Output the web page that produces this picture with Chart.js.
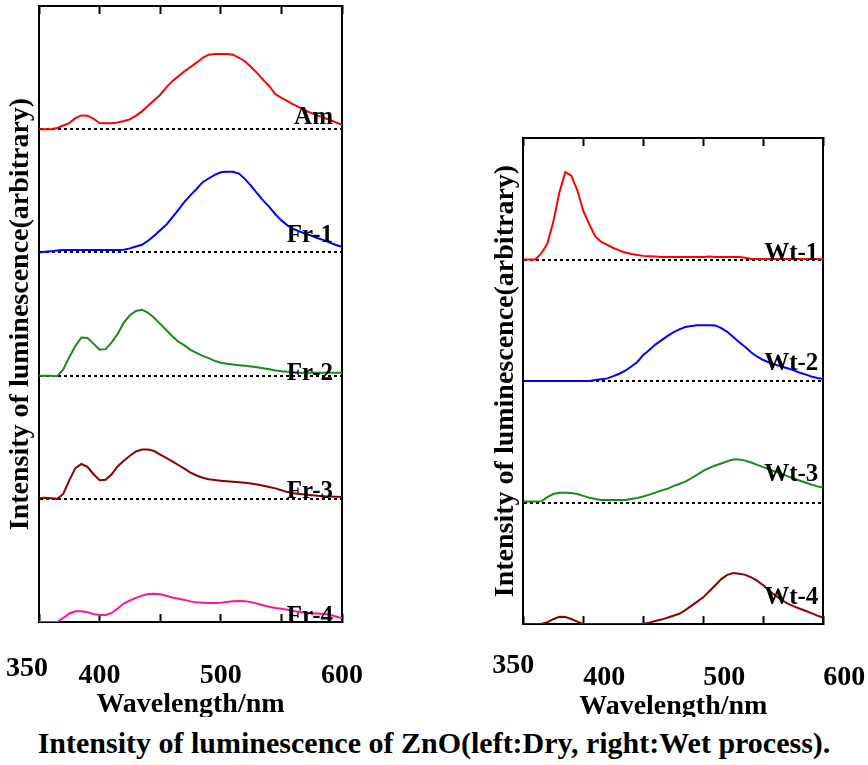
<!DOCTYPE html>
<html>
<head>
<meta charset="utf-8">
<title>ZnO luminescence</title>
<script src="https://cdn.jsdelivr.net/npm/chart.js@4/dist/chart.umd.min.js"></script>
<style>
  body { margin: 0; width: 868px; height: 765px; background: #fff; position: relative; overflow: hidden; }
  #dry { position: absolute; left: 0; top: 0; }
  #wet { position: absolute; left: 480px; top: 132px; }
  #caption {
    position: absolute; left: 0; top: 717px; width: 868px; height: 48px;
    background: #fff; text-align: center; padding-top: 11px; box-sizing: border-box;
    font: bold 30px/30px "Liberation Serif", "Times New Roman", serif; color: #000;
  }
</style>
</head>
<body>
<canvas id="dry" width="366" height="722"></canvas>
<canvas id="wet" width="388" height="592"></canvas>
<div id="caption">Intensity of luminescence of ZnO(left:Dry, right:Wet process).</div>

<script>
// wavelength grid (nm)
const wavelengths = [350,355,360,365,370,375,380,385,390,395,400,405,410,415,420,425,430,435,440,445,
  450,455,460,465,470,475,480,485,490,495,500,505,510,515,520,525,530,535,540,545,
  550,555,560,565,570,575,580,585,590,595,600];

// x tick labels
const xTickLabels = [350, 400, 500, 600];

// dry process (left)
const dryNames = ['Am', 'Fr-1', 'Fr-2', 'Fr-3', 'Fr-4'];
const am  = [0,0,0,0.01,0.03,0.05,0.09,0.112,0.11,0.085, 0.05,0.049,0.049,0.055,0.066,0.08,0.11,0.145,0.19,0.235,
  0.28,0.34,0.39,0.43,0.47,0.505,0.54,0.58,0.605,0.61, 0.61,0.61,0.605,0.58,0.55,0.505,0.455,0.4,0.35,0.285,
  0.255,0.228,0.2,0.178,0.15,0.13,0.11,0.093,0.075,0.055, 0.035];
const fr1 = [0,0.005,0.01,0.015,0.02,0.02,0.02,0.02,0.02,0.02, 0.02,0.02,0.02,0.02,0.022,0.033,0.048,0.062,0.095,0.135,
  0.18,0.225,0.285,0.345,0.41,0.465,0.515,0.57,0.6,0.63, 0.65,0.655,0.655,0.64,0.595,0.54,0.48,0.42,0.37,0.31,
  0.26,0.22,0.19,0.17,0.152,0.135,0.115,0.1,0.08,0.06, 0.045];
const fr2 = [0,0,0,-0.005,0.05,0.15,0.24,0.31,0.305,0.26, 0.21,0.215,0.27,0.34,0.43,0.49,0.525,0.535,0.51,0.47,
  0.42,0.37,0.32,0.275,0.245,0.21,0.185,0.16,0.142,0.12, 0.105,0.097,0.09,0.085,0.08,0.075,0.068,0.06,0.052,0.042,
  0.036,0.032,0.028,0.024,0.024,0.024,0.024,0.024,0.024,0.024, 0.024];
const fr3 = [0.005,0.01,0.005,0,0.04,0.15,0.25,0.283,0.26,0.2, 0.152,0.155,0.2,0.265,0.31,0.35,0.385,0.4,0.4,0.388,
  0.36,0.333,0.305,0.275,0.245,0.213,0.19,0.172,0.16,0.153, 0.147,0.142,0.138,0.134,0.13,0.125,0.116,0.106,0.096,0.085,
  0.07,0.055,0.045,0.04,0.035,0.03,0.025,0.022,0.02,0.017, 0.015];
const fr4 = [0,0,0,0,0.033,0.07,0.088,0.088,0.08,0.065, 0.057,0.057,0.075,0.11,0.15,0.175,0.197,0.215,0.228,0.23,
  0.225,0.213,0.2,0.19,0.18,0.168,0.16,0.157,0.155,0.155, 0.156,0.163,0.17,0.172,0.17,0.162,0.15,0.137,0.125,0.115,
  0.108,0.1,0.09,0.082,0.075,0.072,0.069,0.066,0.06,0.045, 0.03];

// wet process (right)
const wetNames = ['Wt-1', 'Wt-2', 'Wt-3', 'Wt-4'];
const wt1 = [0,0,0,0.05,0.13,0.31,0.55,0.72,0.69,0.57, 0.4,0.29,0.19,0.145,0.12,0.095,0.075,0.058,0.045,0.038,
  0.03,0.027,0.025,0.02,0.02,0.02,0.02,0.02,0.02,0.02, 0.02,0.025,0.02,0.02,0.02,0.02,0.02,0.015,0.005,0.005,
  0.005,0.005,0.005,0.005,0.005,0.005,0.005,0.005,0.005,0.005, 0.003];
const wt2 = [0,0,0,0,0,0,0,0,0,0, 0,0,0.008,0.015,0.022,0.04,0.06,0.085,0.12,0.157,
  0.215,0.255,0.3,0.335,0.37,0.4,0.425,0.445,0.452,0.46, 0.46,0.46,0.458,0.435,0.405,0.363,0.32,0.28,0.235,0.2,
  0.173,0.152,0.135,0.12,0.105,0.09,0.07,0.055,0.038,0.025, 0.016];
const wt3 = [0.008,0.008,0.008,0.01,0.045,0.07,0.08,0.08,0.078,0.07, 0.055,0.04,0.03,0.022,0.022,0.022,0.022,0.022,0.03,0.038,
  0.05,0.065,0.082,0.098,0.113,0.135,0.153,0.172,0.2,0.23, 0.26,0.285,0.305,0.322,0.34,0.355,0.355,0.345,0.33,0.31,
  0.292,0.272,0.255,0.237,0.218,0.2,0.182,0.165,0.148,0.133, 0.122];
const wt4 = [0,0,0,0,0.015,0.04,0.06,0.058,0.042,0.02, 0,0,0,0,0,0,0,0,0,0,
  0.003,0.012,0.025,0.037,0.052,0.068,0.085,0.115,0.15,0.185, 0.22,0.27,0.32,0.37,0.405,0.42,0.415,0.405,0.385,0.355,
  0.32,0.275,0.235,0.2,0.17,0.148,0.128,0.11,0.09,0.07, 0.052];

const serif = '"Liberation Serif", "Times New Roman", serif';
Chart.defaults.font.family = serif;
Chart.defaults.color = '#000';

// each curve sits on its own baseline (offset) in the stack
const makeSet = (vals, offset, color) => ({
  data: wavelengths.map((w, i) => ({ x: w, y: offset + vals[i] })),
  borderColor: color,
  borderWidth: 2,
  pointRadius: 0,
  fill: false
});

const scalesFor = (yMax, labelShift, titlePad) => {
  // ticks point into the plot (negative length)
  const tickGrid = { display: true, drawOnChartArea: false, drawTicks: true, tickLength: -8, tickWidth: 2, tickColor: '#000' };
  const frame = { display: true, color: '#000', width: 2 };
  return {
    x: {
      type: 'linear', position: 'bottom', min: 350, max: 600,
      ticks: {
        stepSize: 50, autoSkip: false, maxRotation: 0, padding: 0, labelOffset: labelShift,
        // tall line box pushes the labels down without widening the side padding
        font: { size: 28, weight: 'bold', lineHeight: 4.39 },
        // 350 is drawn apart, lower-left of its tick
        callback: v => (v !== xTickLabels[0] && xTickLabels.includes(v)) ? String(v) : ''
      },
      grid: tickGrid,
      border: frame,
      title: {
        display: true, text: 'Wavelength/nm',
        font: { size: 28, weight: 'bold', lineHeight: 1.2 },
        padding: { top: -48.6, bottom: 0 }
      }
    },
    xTop: {
      type: 'linear', position: 'top', min: 350, max: 600,
      ticks: { display: false, stepSize: 50 },
      grid: tickGrid,
      border: frame,
      title: { display: true, text: '', font: { size: 1, lineHeight: 1 }, padding: { top: 13, bottom: 0 } }
    },
    y: {
      min: 0, max: yMax,
      ticks: { display: false, stepSize: 1 },
      grid: {
        drawTicks: false, lineWidth: 2,
        color: c => (c.tick.value > 0 && c.tick.value < yMax) ? '#000' : 'rgba(0,0,0,0)'
      },
      border: { display: true, color: '#000', width: 2, dash: [3, 3] },
      title: {
        display: true, text: 'Intensity of luminescence(arbitrary)',
        font: { size: 28, weight: 'bold', lineHeight: 1 },
        padding: { top: titlePad[0], bottom: titlePad[1] }
      }
    },
    yRight: {
      position: 'right', min: 0, max: yMax,
      ticks: { display: false },
      grid: { display: false, drawTicks: false },
      border: frame
    }
  };
};

// series names + the first tick label
const panelText = {
  id: 'panelText',
  afterDatasetsDraw(chart, args, opts) {
    const { ctx, chartArea, scales } = chart;
    ctx.save();
    ctx.fillStyle = '#000';
    ctx.font = 'bold 25px ' + serif;
    ctx.textAlign = 'right';
    ctx.textBaseline = 'alphabetic';
    opts.names.forEach((name, i) => {
      const y = scales.y.getPixelForValue(opts.offsets[i]) - opts.lifts[i];
      ctx.fillText(name, chartArea.right - opts.inset, y);
    });
    ctx.font = 'bold 28px ' + serif;
    ctx.textAlign = 'center';
    ctx.textBaseline = 'middle';
    ctx.fillText(String(xTickLabels[0]), scales.x.getPixelForValue(xTickLabels[0]) + opts.firstDx, chartArea.bottom + opts.firstDy);
    ctx.restore();
  }
};

new Chart(document.querySelector('#dry'), {
  type: 'line',
  data: {
    datasets: [
      makeSet(am, 4, '#ff0000'),
      makeSet(fr1, 3, '#0000ff'),
      makeSet(fr2, 2, '#1a8a1a'),
      makeSet(fr3, 1, '#8b0000'),
      makeSet(fr4, 0, '#ff1493')
    ]
  },
  options: {
    responsive: false,
    animation: false,
    layout: { padding: { left: 0, right: 24, top: 0, bottom: 0 } },
    scales: scalesFor(5, 0, [7, 4]),
    plugins: {
      legend: { display: false },
      tooltip: { enabled: false },
      panelText: { names: dryNames, offsets: [4, 3, 2, 1, 0], lifts: [5, 10, -4, 1, -1], inset: 9, firstDx: -12, firstDy: 47 }
    }
  },
  plugins: [panelText]
});

new Chart(document.querySelector('#wet'), {
  type: 'line',
  data: {
    datasets: [
      makeSet(wt1, 3, '#ff0000'),
      makeSet(wt2, 2, '#0000ff'),
      makeSet(wt3, 1, '#1a8a1a'),
      makeSet(wt4, 0, '#8b0000')
    ]
  },
  options: {
    responsive: false,
    animation: false,
    layout: { padding: { left: 0, right: 44.7, top: 0, bottom: 0 } },
    scales: scalesFor(4, 21, [12, 3.3]),
    plugins: {
      legend: { display: false },
      tooltip: { enabled: false },
      panelText: { names: wetNames, offsets: [3, 2, 1, 0], lifts: [0, 11, 22, 20], inset: 5, firstDx: -10, firstDy: 42 }
    }
  },
  plugins: [panelText]
});
</script>
</body>
</html>
